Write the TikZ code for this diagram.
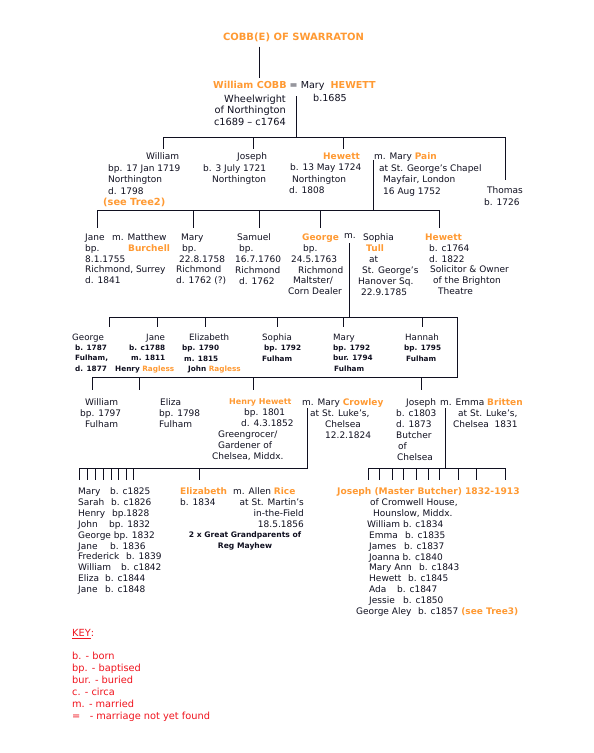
\documentclass[tikz,border=0pt]{standalone}
\usepackage{fontspec}
\setmainfont{DejaVu Sans}
\usepackage{tikz}
\definecolor{TreeInk}{HTML}{101020}
\definecolor{CobbOrange}{HTML}{FF9A33}
\definecolor{KeyRed}{HTML}{F0141E}
\newcommand\orname[1]{\textcolor{CobbOrange}{\bfseries #1}}
\newcommand\fine[1]{{\fontsize{7.3}{10.4}\selectfont\bfseries #1}}
\newcommand\kidname[2]{\makebox[#1pt][l]{#2}}

\begin{document}
\begin{tikzpicture}[
    x=1pt, y=-1pt,
    link/.style={draw=TreeInk, line width=0.9pt},
    person/.style={anchor=north west, align=left, inner sep=0pt, text=TreeInk, font=\fontsize{9}{11.5}\selectfont},
    personc/.style={person, font=\fontsize{9}{10.9}\selectfont},
    persond/.style={person, font=\fontsize{8.7}{10.4}\selectfont},
    keytext/.style={anchor=north west, align=left, inner sep=0pt, text=KeyRed, font=\fontsize{9.8}{12}\selectfont}
]
\fill[white] (0,0) rectangle (594,753);
\useasboundingbox (0,0) rectangle (594,753);

% head of the family
\node[inner sep=0pt, text=CobbOrange, font=\fontsize{10}{12}\selectfont\bfseries] (title) at (293.5,37) {COBB(E) OF SWARRATON};
\node[anchor=west, inner sep=0pt, text=TreeInk, font=\fontsize{9.6}{11.5}\selectfont] (cobb) at (213,86) {\orname{William COBB} = Mary~~\orname{HEWETT}};
\node[person, align=right, anchor=north east, font=\fontsize{9.8}{11.5}\selectfont] (cobbinfo) at (286,94.5) {Wheelwright\\of Northington\\c1689 – c1764};
\node[person, font=\fontsize{9.6}{11.5}\selectfont] (maryh) at (313,94.5) {b.1685};

% children of William and Mary
\node[person] (william) at (103,152.5) {\hspace*{43pt}William\\\hspace*{5pt}bp. 17 Jan 1719\\\hspace*{5pt}Northington\\\hspace*{5pt}d. 1798\\{\fontsize{9.8}{11.5}\selectfont\orname{(see Tree2)}}};
\node[person] (joseph) at (203,152.5) {\hspace*{34pt}Joseph\\b. 3 July 1721\\\hspace*{9pt}Northington};
\node[person] (hewett) at (289,152.5) {\hspace*{34pt}\orname{Hewett}\\\hspace*{1pt}b. 13 May 1724\\\hspace*{3pt}Northington\\d. 1808};
\node[person] (pain) at (374,152.5) {m. Mary \orname{Pain}\\\hspace*{5pt}at St. George’s Chapel\\\hspace*{9pt}Mayfair, London\\\hspace*{9pt}16 Aug 1752};
\node[person] (thomas) at (484,186.5) {\hspace*{3pt}Thomas\\b. 1726};

% children of Hewett and Mary Pain
\node[personc] (jane) at (85,233.5) {Jane\\bp.\\8.1.1755\\Richmond, Surrey\\d. 1841};
\node[personc] (burchell) at (112,233.5) {m. Matthew\\\hspace*{16pt}\orname{Burchell}};
\node[personc] (marya) at (176,233.5) {\hspace*{5pt}Mary\\\hspace*{6pt}bp.\\\hspace*{3pt}22.8.1758\\Richmond\\d. 1762 (?)};
\node[personc] (samuel) at (235,233.5) {\hspace*{2pt}Samuel\\\hspace*{4pt}bp.\\16.7.1760\\Richmond\\\hspace*{4pt}d. 1762};
\node[personc] (george) at (288,233.5) {\hspace*{14pt}\orname{George}\\\hspace*{15pt}bp.\\\hspace*{3pt}24.5.1763\\\hspace*{10pt}Richmond\\\hspace*{5pt}Maltster/\\Corn Dealer};
\node[personc] (georgem) at (344,233.5) {m.};
\node[personc] (sophia) at (358,233.5) {\hspace*{5pt}Sophia\\\hspace*{8pt}\orname{Tull}\\\hspace*{11pt}at\\\hspace*{4pt}St. George’s\\Hanover Sq.\\\hspace*{3pt}22.9.1785};
\node[personc] (hewettb) at (425,233.5) {\orname{Hewett}\\\hspace*{4pt}b. c1764\\\hspace*{4pt}d. 1822\\\hspace*{5pt}Solicitor \& Owner\\\hspace*{8pt}of the Brighton\\\hspace*{13pt}Theatre};

% children of George and Sophia
\node[persond] (georgeb) at (72,333.5) {George\\\hspace*{3pt}\fine{b. 1787}\\\hspace*{3pt}\fine{Fulham,}\\\hspace*{3pt}\fine{d. 1877}};
\node[persond] (janeb) at (115,333.5) {\hspace*{31pt}Jane\\\hspace*{14pt}\fine{b. c1788}\\\hspace*{16pt}\fine{m. 1811}\\\fine{Henry \orname{Ragless}}};
\node[persond] (elizabeth) at (182,333.5) {\hspace*{7pt}Elizabeth\\\fine{bp. 1790}\\\hspace*{2pt}\fine{m. 1815}\\\hspace*{6pt}\fine{John \orname{Ragless}}};
\node[persond] (sophiab) at (262,333.5) {Sophia\\\hspace*{2pt}\fine{bp. 1792}\\\fine{Fulham}};
\node[persond] (maryb) at (333,333.5) {Mary\\\fine{bp. 1792}\\\fine{bur. 1794}\\\hspace*{1pt}\fine{Fulham}};
\node[persond] (hannah) at (404,333.5) {\hspace*{1pt}Hannah\\\fine{bp. 1795}\\\hspace*{2pt}\fine{Fulham}};
\node[personc] (williamb) at (80,398.5) {\hspace*{5pt}William\\bp. 1797\\\hspace*{5pt}Fulham};
\node[personc] (eliza) at (159,398.5) {\hspace*{1pt}Eliza\\bp. 1798\\Fulham};
\node[personc] (henry) at (212,398.5) {\hspace*{17pt}{\fontsize{8}{10.9}\selectfont\orname{Henry Hewett}}\\\hspace*{32pt}bp. 1801\\\hspace*{29pt}d. 4.3.1852\\\hspace*{6pt}Greengrocer/\\\hspace*{6pt}Gardener of\\Chelsea, Middx.};
\node[personc] (crowley) at (302,398.5) {m. Mary \orname{Crowley}\\\hspace*{8pt}at St. Luke’s,\\\hspace*{23pt}Chelsea\\\hspace*{23pt}12.2.1824};
\node[personc] (josephb) at (396,398.5) {\hspace*{10pt}Joseph\\b. c1803\\d. 1873\\Butcher\\\hspace*{2pt}of\\\hspace*{1pt}Chelsea};
\node[personc] (britten) at (440,398.5) {m. Emma \orname{Britten}\\\hspace*{18pt}at St. Luke’s,\\\hspace*{13pt}Chelsea~~1831};

% children of Henry Hewett and Mary Crowley
\node[personc] (kids) at (78,487.5) {\kidname{32}{Mary}b. c1825\\\kidname{33}{Sarah}b. c1826\\\kidname{34}{Henry}bp.1828\\\kidname{31}{John}bp. 1832\\George bp. 1832\\\kidname{32}{Jane}b. 1836\\\kidname{48}{Frederick}b. 1839\\\kidname{43}{William}b. c1842\\\kidname{27}{Eliza}b. c1844\\\kidname{27}{Jane}b. c1848};
\node[personc] (elizabethb) at (180,487.5) {\orname{Elizabeth}\\b. 1834};
\node[personc] (rice) at (233,487.5) {m. Allen \orname{Rice}};
\node[personc, align=right, anchor=north east] (martin) at (304,498.5) {at St. Martin’s\\in-the-Field\\18.5.1856};
\node[person, anchor=north, align=center, font=\fontsize{7.6}{10.9}\selectfont\bfseries] (mayhew) at (245,531.5) {2 x Great Grandparents of\\Reg Mayhew};

% children of Joseph and Emma Britten
\node[personc, font=\fontsize{9.1}{10.9}\selectfont] (josephc) at (337,487.5) {\orname{Joseph (Master Butcher) 1832-1913}};
\node[personc] (josephkids) at (356,498.5) {\hspace*{14pt}of Cromwell House,\\\hspace*{17pt}Hounslow, Middx.\\\hspace*{11pt}William b. c1834\\\hspace*{13pt}\kidname{36}{Emma}b. c1835\\\hspace*{13pt}\kidname{35}{James}b. c1837\\\hspace*{13pt}Joanna b. c1840\\\hspace*{13pt}\kidname{50}{Mary Ann}b. c1843\\\hspace*{13pt}\kidname{39}{Hewett}b. c1845\\\hspace*{13pt}\kidname{28}{Ada}b. c1847\\\hspace*{13pt}\kidname{34}{Jessie}b. c1850\\\kidname{62}{George Aley}b. c1857 \orname{(see Tree3)}};

% key
\node[keytext] (keyhead) at (72,629) {\underline{KEY}:};
\node[keytext] (keylist) at (72,652) {b. - born\\bp. - baptised\\bur. - buried\\c. - circa\\m. - married\\=~~~- marriage not yet found};

% connectors
\coordinate (cobbup) at (259,78);
\coordinate (cobbm) at (296,96);
\coordinate (bar1w) at (163,137);
\coordinate (bar1e) at (505,137);
\coordinate (painm) at (373,160);
\coordinate (bar2w) at (97,210);
\coordinate (bar2e) at (439,210);
\coordinate (tullm) at (349,243);
\coordinate (bar3w) at (109,317);
\coordinate (bar3e) at (457,317);
\coordinate (bar4e) at (457,377);
\coordinate (bar4w) at (92,377);
\coordinate (crowm) at (307,408);
\coordinate (bar5w) at (79,468);
\coordinate (brittm) at (445,408);
\coordinate (bar6w) at (368,468);
\coordinate (bar6e) at (505,468);

\draw[link, shorten <=5pt] (title.south -| cobbup) -- (cobbup);
\draw[link] (cobbm) -- (cobbm |- bar1w);
\draw[link] (bar1w) -- (bar1e);
\foreach \x/\n/\s in {163/william/3.5, 253/joseph/3.5, 343/hewett/3.5, 505/thomas/6.5}
  \draw[link, shorten >=\s pt] (bar1w -| \x,0) -- (\x,0 |- \n.north);

\draw[link] (painm) -- (painm |- bar2w);
\draw[link] (bar2w) -- (bar2e);
\foreach \x/\n in {97/jane, 193/marya, 259/samuel, 320/george, 439/hewettb}
  \draw[link, shorten >=5.5pt] (bar2w -| \x,0) -- (\x,0 |- \n.north);

\draw[link] (tullm) -- (tullm |- bar3w);
\draw[link] (bar3w) -- (bar3e) -- (bar4e) -- (bar4w);
\foreach \x/\n in {109/georgeb, 157/janeb, 205/elizabeth, 277/sophiab, 343/maryb, 422/hannah}
  \draw[link, shorten >=6.5pt] (bar3w -| \x,0) -- (\x,0 |- \n.north);
\foreach \x/\n in {92/williamb, 139/eliza, 253/henry, 421/josephb}
  \draw[link, shorten >=8.5pt] (bar4w -| \x,0) -- (\x,0 |- \n.north);

\draw[link] (crowm) |- (bar5w);
\foreach \x in {79,87,95,103,111,118,126,133}
  \draw[link] (bar5w -| \x,0) -- ++(0,12);
\draw[link, shorten >=7.5pt] (bar5w -| 199,0) -- (199,0 |- elizabethb.north);

\draw[link] (brittm) -- (brittm |- bar6w);
\draw[link] (bar6w) -- (bar6e);
\foreach \x in {368,379,392,403,416,428,439,458,476,505}
  \draw[link] (bar6w -| \x,0) -- ++(0,12);
\end{tikzpicture}
\end{document}
